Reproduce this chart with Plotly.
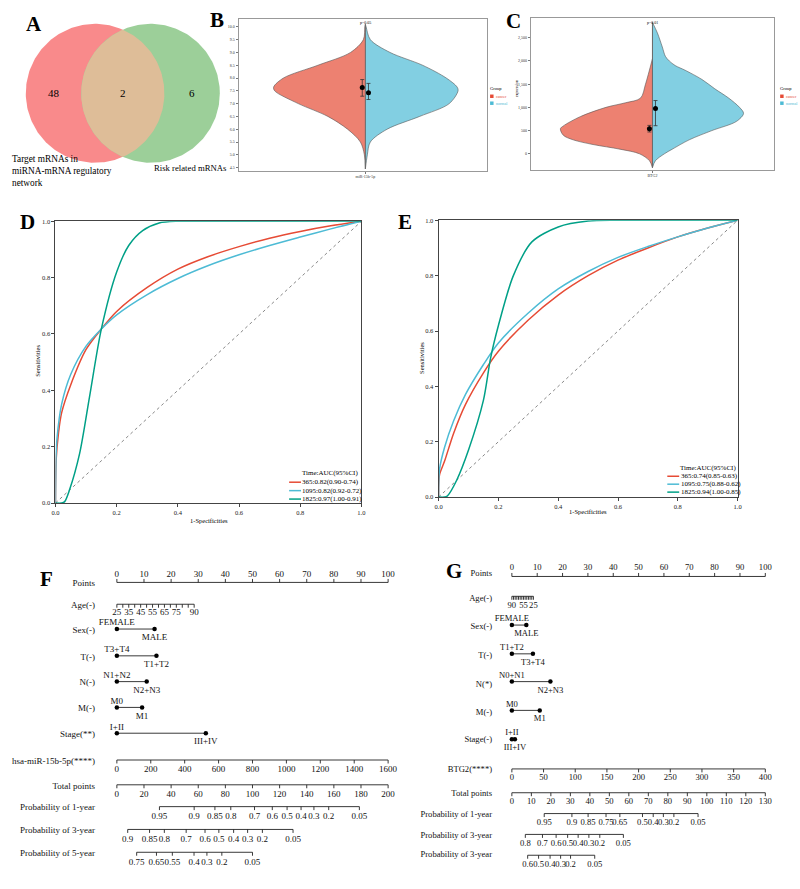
import numpy as np
import plotly.graph_objects as go

FONT = "Liberation Serif, Times New Roman, serif"
W, H = 800, 889

# ====================== DATA ======================
# Panel A (Venn)
venn_set_names = ["Target mRNAs in<br>miRNA-mRNA regulatory<br>network", "Risk related mRNAs"]
venn_counts = [48, 2, 6]          # only target, shared, only risk

# Panel B (split violin, miR-15b-5p)
b_gene = "miR-15b-5p"
b_pvalue = "p=0.05"
b_levels = [4.45, 5.0, 5.5, 6.0, 6.5, 7.0, 7.5, 7.65, 8.0, 8.5, 9.0, 9.5, 10.0, 10.1]
b_cancer_density = [0, 0.008, 0.04, 0.143, 0.302, 0.54, 0.73, 0.738, 0.659, 0.381, 0.119, 0.016, 0.004, 0]
b_normal_density = [0, 0.016, 0.04, 0.175, 0.437, 0.675, 0.746, 0.738, 0.651, 0.46, 0.198, 0.04, 0.006, 0]
b_mean = [7.63, 7.42]
b_low = [7.29, 7.16]
b_high = [7.94, 7.79]

# Panel C (split violin, BTG2)
c_gene = "BTG2"
c_pvalue = "p=0.01"
c_cancer_levels = [-300, -150, 0, 100, 200, 300, 400, 540, 600, 800, 1000, 1100, 1200, 1500, 2050]
c_cancer_density = [0, 0.024, 0.106, 0.268, 0.488, 0.650, 0.732, 0.756, 0.732, 0.593, 0.382, 0.220, 0.098, 0.057, 0]
c_normal_levels = [-300, -150, 0, 100, 300, 500, 700, 870, 1000, 1200, 1400, 1600, 1800, 1900, 2000, 2100, 2300, 2600, 2830]
c_normal_density = [0, 0.024, 0.098, 0.163, 0.301, 0.488, 0.691, 0.748, 0.715, 0.626, 0.512, 0.407, 0.268, 0.187, 0.138, 0.106, 0.081, 0.041, 0]
c_mean = [541, 976]
c_low = [470, 605]
c_high = [612, 1147]
groups = ["cancer", "normal"]

# Panel D (ROC)
d_fpr_365 = [0, 0.002, 0.01, 0.02, 0.05, 0.1, 0.15, 0.2, 0.3, 0.4, 0.5, 0.6, 0.7, 0.8, 0.9, 1.0]
d_tpr_365 = [0, 0.15, 0.25, 0.32, 0.42, 0.545, 0.618, 0.68, 0.765, 0.83, 0.875, 0.91, 0.94, 0.964, 0.984, 1.0]
d_fpr_1095 = [0, 0.002, 0.005, 0.02, 0.05, 0.1, 0.15, 0.2, 0.3, 0.4, 0.5, 0.6, 0.7, 0.8, 0.9, 1.0]
d_tpr_1095 = [0, 0.17, 0.23, 0.35, 0.457, 0.557, 0.618, 0.668, 0.74, 0.797, 0.843, 0.881, 0.914, 0.944, 0.973, 1.0]
d_fpr_1825 = [0, 0.02, 0.03, 0.046, 0.079, 0.111, 0.15, 0.2, 0.24, 0.285, 0.339, 0.4, 0.5, 1.0]
d_tpr_1825 = [0, 0, 0.005, 0.047, 0.176, 0.375, 0.618, 0.82, 0.915, 0.967, 0.994, 1.0, 1.0, 1.0]
d_legend = ["365:0.82(0.90-0.74)", "1095:0.82(0.92-0.72)", "1825:0.97(1.00-0.91)"]

# Panel E (ROC)
e_fpr_365 = [0, 0.003, 0.02, 0.05, 0.09, 0.15, 0.2, 0.3, 0.4, 0.5, 0.6, 0.7, 0.8, 0.9, 1.0]
e_tpr_365 = [0, 0.08, 0.13, 0.23, 0.335, 0.449, 0.527, 0.64, 0.73, 0.8, 0.856, 0.9, 0.94, 0.972, 1.0]
e_fpr_1095 = [0, 0.003, 0.02, 0.05, 0.09, 0.15, 0.2, 0.3, 0.4, 0.5, 0.6, 0.7, 0.8, 0.9, 1.0]
e_tpr_1095 = [0, 0.1, 0.18, 0.275, 0.371, 0.479, 0.557, 0.665, 0.752, 0.815, 0.866, 0.905, 0.94, 0.972, 1.0]
e_fpr_1825 = [0, 0.02, 0.03, 0.06, 0.1, 0.15, 0.174, 0.2, 0.25, 0.312, 0.4, 0.5, 0.6, 1.0]
e_tpr_1825 = [0, 0, 0.005, 0.06, 0.17, 0.35, 0.503, 0.62, 0.8, 0.922, 0.976, 0.997, 1.0, 1.0]
e_legend = ["365:0.74(0.85-0.63)", "1095:0.75(0.88-0.62)", "1825:0.94(1.00-0.85)"]
roc_legend_title = "Time:AUC(95%CI)"

# Panel F (nomogram, miRNA)
f_points_ticks = list(range(0, 101, 10))
f_age_ticks = list(range(25, 91, 5))
f_age_labels = [25, 35, 45, 55, 65, 75, 90]
f_age_max_points = 28.5
f_sex = (["FEMALE", "MALE"], [0, 13.9])
f_t = (["T3+T4", "T1+T2"], [0, 14.6])
f_n = (["N1+N2", "N2+N3"], [0, 11.0])
f_m = (["M0", "M1"], [0, 9.3])
f_stage = (["I+II", "III+IV"], [0, 32.8])
f_mir_ticks = list(range(0, 1601, 200))
f_mir_max = 1600
f_total_ticks = list(range(0, 201, 20))
f_total_max = 200
f_p1_labels = ["0.95", "0.9", "0.85", "0.8", "0.7", "0.6", "0.5", "0.4", "0.3", "0.2", "0.05"]
f_p1_total = [31.4, 57.0, 72.3, 84.0, 101.5, 114.6, 125.5, 135.8, 145.3, 156.2, 178.8]
f_p3_labels = ["0.9", "0.85", "0.8", "0.7", "0.6", "0.5", "0.4", "0.3", "0.2", "0.05"]
f_p3_total = [8.0, 24.1, 35.0, 51.1, 65.0, 75.2, 86.1, 96.4, 107.3, 129.9]
f_p5_labels = ["0.75", "0.65", "0.55", "0.4", "0.3", "0.2", "0.05"]
f_p5_total = [14.6, 29.2, 40.9, 56.9, 66.4, 77.4, 100.0]
f_row_names = ["Points", "Age(-)", "Sex(-)", "T(-)", "N(-)", "M(-)", "Stage(**)",
               "hsa-miR-15b-5p(****)", "Total points", "Probability of 1-year",
               "Probability of 3-year", "Probability of 5-year"]

# Panel G (nomogram, BTG2)
g_points_ticks = list(range(0, 101, 10))
g_age_ticks = list(range(25, 91, 5))
g_age_labels = [90, 55, 25]
g_age_max_points = 8.5
g_sex = (["FEMALE", "MALE"], [0, 5.7])
g_t = (["T1+T2", "T3+T4"], [0, 8.3])
g_n = (["N0+N1", "N2+N3"], [0, 15.2])
g_m = (["M0", "M1"], [0, 11.0])
g_stage = (["I+II", "III+IV"], [0, 1.2])
g_btg2_ticks = list(range(0, 401, 50))
g_btg2_max = 400
g_total_ticks = list(range(0, 131, 10))
g_total_max = 130
g_p1_labels = ["0.95", "0.9", "0.85", "0.75", "0.65", "0.5", "0.4", "0.3", "0.2", "0.05"]
g_p1_total = [16.6, 30.8, 39.1, 48.3, 55.4, 67.0, 72.5, 77.7, 83.1, 95.5]
g_p3_labels = ["0.8", "0.7", "0.6", "0.5", "0.4", "0.3", "0.2", "0.05"]
g_p3_total = [6.9, 15.7, 22.7, 28.6, 34.0, 39.5, 45.1, 57.2]
g_p3b_labels = ["0.6", "0.5", "0.4", "0.3", "0.2", "0.05"]
g_p3b_total = [8.1, 13.7, 19.6, 25.0, 30.1, 42.5]
g_row_names = ["Points", "Age(-)", "Sex(-)", "T(-)", "N(*)", "M(-)", "Stage(-)",
               "BTG2(****)", "Total points", "Probability of 1-year",
               "Probability of 3-year", "Probability of 3-year"]

# ====================== STYLE / LAYOUT ======================
RED, BLUE, GREEN = "#E64B35", "#4DBBD5", "#00A087"
RED_FILL, BLUE_FILL = "rgba(230,75,53,0.7)", "rgba(77,187,213,0.7)"
LINE = "#222222"

fig = go.Figure()
ann = []
shapes = []


def pxx(x):
    return x / W


def pxy(y):
    return 1 - y / H


def text(x, y, s, size=9, xanchor="center", yanchor="middle", color="#000", angle=0, align="center"):
    ann.append(dict(x=pxx(x), y=pxy(y), xref="paper", yref="paper", text=s, showarrow=False,
                    font=dict(family=FONT, size=size, color=color), xanchor=xanchor,
                    yanchor=yanchor, textangle=angle, borderpad=0, align=align))


def hline_px(x0, x1, y, color, width=1.5):
    shapes.append(dict(type="line", xref="paper", yref="paper", x0=pxx(x0), x1=pxx(x1),
                       y0=pxy(y), y1=pxy(y), line=dict(color=color, width=width)))


def square_px(x, y, s, color):
    shapes.append(dict(type="rect", xref="paper", yref="paper", x0=pxx(x), x1=pxx(x + s),
                       y0=pxy(y + s / 2), y1=pxy(y - s / 2), line=dict(width=0), fillcolor=color))


# ---------------- Panel A: Venn (px axes x/y) ----------------
R = 70
red_c, green_c = (92, 90), (148, 90)
th = np.linspace(0, 2 * np.pi, 241)
fig.add_trace(go.Scatter(x=red_c[0] + R * np.cos(th), y=red_c[1] + R * np.sin(th), mode="lines",
                         fill="toself", fillcolor="#F98A8B", line=dict(width=0),
                         xaxis="x", yaxis="y", hoverinfo="skip", showlegend=False))
fig.add_trace(go.Scatter(x=green_c[0] + R * np.cos(th), y=green_c[1] + R * np.sin(th), mode="lines",
                         fill="toself", fillcolor="#9CCF99", line=dict(width=0),
                         xaxis="x", yaxis="y", hoverinfo="skip", showlegend=False))
half = np.arccos((green_c[0] - red_c[0]) / 2 / R)
t1 = np.linspace(-half, half, 80)
t2 = np.linspace(np.pi - half, np.pi + half, 80)
lens_x = np.concatenate([red_c[0] + R * np.cos(t1), green_c[0] + R * np.cos(t2)])
lens_y = np.concatenate([red_c[1] + R * np.sin(t1), green_c[1] + R * np.sin(t2)])
fig.add_trace(go.Scatter(x=lens_x, y=lens_y, mode="lines", fill="toself", fillcolor="#DEBD98",
                         line=dict(width=0), xaxis="x", yaxis="y", hoverinfo="skip", showlegend=False))
text(50, 90, str(venn_counts[0]), size=11)
text(120, 90, str(venn_counts[1]), size=11)
text(190, 90, str(venn_counts[2]), size=11)
text(7, 168, venn_set_names[0], size=9.3, xanchor="left", align="left")
text(151, 165, venn_set_names[1], size=8.7, xanchor="left")

# ---------------- Panels B & C: split violins ----------------


def half_violin(levels, dens, sign, fill, xa, ya):
    fig.add_trace(go.Scatter(x=[sign * d for d in dens], y=levels, mode="lines", fill="toself",
                             fillcolor=fill, line=dict(color="#555", width=0.6, shape="spline", smoothing=0.9),
                             xaxis=xa, yaxis=ya, hoverinfo="skip", showlegend=False))


def means(mean, low, high, xa, ya):
    fig.add_trace(go.Scatter(x=[-0.025, 0.025], y=mean, mode="markers",
                             marker=dict(color="black", size=5),
                             error_y=dict(type="data", symmetric=False,
                                          array=[h - m for h, m in zip(high, mean)],
                                          arrayminus=[m - l for m, l in zip(mean, low)],
                                          color="#333", thickness=0.8, width=2),
                             xaxis=xa, yaxis=ya, hoverinfo="skip", showlegend=False))


half_violin(b_levels, b_cancer_density, -1, RED_FILL, "x4", "y4")
half_violin(b_levels, b_normal_density, 1, BLUE_FILL, "x4", "y4")
fig.add_trace(go.Scatter(x=[0, 0], y=[b_levels[0], b_levels[-1]], mode="lines",
                         line=dict(color="#666", width=1), xaxis="x4", yaxis="y4",
                         hoverinfo="skip", showlegend=False))
means(b_mean, b_low, b_high, "x4", "y4")

half_violin(c_cancer_levels, c_cancer_density, -1, RED_FILL, "x5", "y5")
half_violin(c_normal_levels, c_normal_density, 1, BLUE_FILL, "x5", "y5")
fig.add_trace(go.Scatter(x=[0, 0], y=[c_cancer_levels[0], c_normal_levels[-1]], mode="lines",
                         line=dict(color="#666", width=1), xaxis="x5", yaxis="y5",
                         hoverinfo="skip", showlegend=False))
means(c_mean, c_low, c_high, "x5", "y5")

text(365, 19, b_pvalue, size=4)
text(655, 19, c_pvalue, size=4)
text(518, 85, "expression", size=4, angle=-90)
for lx, name in [(490, "Group"), (783, "Group")]:
    text(lx, 85, name, size=4.5, xanchor="left")
    square_px(lx + 1, 93, 3.5, RED)
    square_px(lx + 1, 100, 3.5, BLUE)
    text(lx + 6, 93, groups[0], size=4, xanchor="left", color=RED)
    text(lx + 6, 100, groups[1], size=4, xanchor="left", color=BLUE)

# ---------------- Panels D & E: ROC ----------------


def roc(curves, xa, ya):
    fig.add_trace(go.Scatter(x=[0, 1], y=[0, 1], mode="lines",
                             line=dict(color="#555", width=0.7, dash="dot"),
                             xaxis=xa, yaxis=ya, hoverinfo="skip", showlegend=False))
    for fx, ty, col in curves:
        fig.add_trace(go.Scatter(x=fx, y=ty, mode="lines",
                                 line=dict(color=col, width=1.5, shape="spline", smoothing=0.8),
                                 xaxis=xa, yaxis=ya, hoverinfo="skip", showlegend=False,
                                 cliponaxis=False))


roc([(d_fpr_365, d_tpr_365, RED), (d_fpr_1095, d_tpr_1095, BLUE), (d_fpr_1825, d_tpr_1825, GREEN)], "x2", "y2")
roc([(e_fpr_365, e_tpr_365, RED), (e_fpr_1095, e_tpr_1095, BLUE), (e_fpr_1825, e_tpr_1825, GREEN)], "x3", "y3")

text(207, 521, "1-Specificities", size=6.5)
text(34, 360, "Sensitivities", size=6.5, angle=-90)
text(590, 512, "1-Specificities", size=6.5)
text(421, 357, "Sensitivities", size=6.5, angle=-90)

text(300, 473, roc_legend_title, size=7, xanchor="left")
for i, (lab, col) in enumerate(zip(d_legend, [RED, BLUE, GREEN])):
    y = 482 + i * 8.5
    hline_px(288, 300, y, col)
    text(300.5, y, lab, size=7, xanchor="left")
text(682, 468, roc_legend_title, size=7, xanchor="left")
for i, (lab, col) in enumerate(zip(e_legend, [RED, BLUE, GREEN])):
    y = 476 + i * 8
    hline_px(670, 682, y, col)
    text(683, y, lab, size=7, xanchor="left")

# ---------------- Panels F & G: nomograms ----------------
F_X0, F_PPP = 114, 2.74   # px of 0 points, px per point
G_X0, G_PPP = 513, 2.56


def seg_trace(xs, ys, xa, width=0.9):
    fig.add_trace(go.Scatter(x=xs, y=ys, mode="lines", line=dict(color=LINE, width=width),
                             xaxis=xa, yaxis="y", hoverinfo="skip", showlegend=False, cliponaxis=False))


def txt_trace(xs, ys, labels, xa, size, pos="middle center"):
    fig.add_trace(go.Scatter(x=xs, y=ys, mode="text", text=labels, textposition=pos,
                             textfont=dict(family=FONT, size=size, color="#111"),
                             xaxis=xa, yaxis="y", hoverinfo="skip", showlegend=False, cliponaxis=False))


def scale(xa, tick_pos, y_line, tick_dir, lab_pos, labels, lab_y, size):
    xs = [min(tick_pos), max(tick_pos), None]
    ys = [y_line, y_line, None]
    for p in tick_pos:
        xs += [p, p, None]
        ys += [y_line, y_line + tick_dir * 3.5, None]
    seg_trace(xs, ys, xa)
    txt_trace(lab_pos, [lab_y] * len(lab_pos), labels, xa, size)


def levels_row(xa, lv, y_line, size):
    names, pts = lv
    fig.add_trace(go.Scatter(x=pts, y=[y_line, y_line], mode="lines+markers",
                             line=dict(color=LINE, width=0.9), marker=dict(color="black", size=4.5),
                             xaxis=xa, yaxis="y", hoverinfo="skip", showlegend=False, cliponaxis=False))
    txt_trace([pts[0]], [y_line - 6], [names[0]], xa, size)
    txt_trace([pts[1]], [y_line + 9], [names[1]], xa, size)


# F rows (line y in px)
FS = 9
F_Y = [583, 605, 630, 657, 683, 709, 735, 762, 787, 809, 832, 855]
scale("x6", f_points_ticks, F_Y[0], -1, f_points_ticks, [str(v) for v in f_points_ticks], F_Y[0] - 8, FS)
age_pts = [(a - f_age_ticks[0]) / (f_age_ticks[-1] - f_age_ticks[0]) * f_age_max_points for a in f_age_ticks]
age_lab_pts = [(a - f_age_ticks[0]) / (f_age_ticks[-1] - f_age_ticks[0]) * f_age_max_points for a in f_age_labels]
scale("x6", age_pts, F_Y[1], 1, age_lab_pts, [str(v) for v in f_age_labels], F_Y[1] + 9, FS)
for lv, yy in zip([f_sex, f_t, f_n, f_m, f_stage], F_Y[2:7]):
    levels_row("x6", lv, yy, FS)
mir_pts = [v / f_mir_max * 100 for v in f_mir_ticks]
scale("x6", mir_pts, F_Y[7], 1, mir_pts, [str(v) for v in f_mir_ticks], F_Y[7] + 10, FS)
tot_pts = [v / f_total_max * 100 for v in f_total_ticks]
scale("x6", tot_pts, F_Y[8], 1, tot_pts, [str(v) for v in f_total_ticks], F_Y[8] + 10, FS)
for labs, tots, yy in [(f_p1_labels, f_p1_total, F_Y[9]), (f_p3_labels, f_p3_total, F_Y[10]),
                       (f_p5_labels, f_p5_total, F_Y[11])]:
    pp = [t / f_total_max * 100 for t in tots]
    scale("x6", pp, yy, 1, pp, labs, yy + 10.5, FS)
f_lab_x = (92 - F_X0) / F_PPP
txt_trace([f_lab_x] * len(f_row_names), [y + 1.5 for y in F_Y], f_row_names, "x6", FS, pos="middle left")

# G rows
GS = 8.6
G_Y = [577, 597, 626, 655, 683, 712, 741, 771, 795, 816, 837, 858]
scale("x7", g_points_ticks, G_Y[0], -1, g_points_ticks, [str(v) for v in g_points_ticks], G_Y[0] - 9, GS)
g_age_pts = [(g_age_ticks[-1] - a) / (g_age_ticks[-1] - g_age_ticks[0]) * g_age_max_points for a in g_age_ticks]
g_age_lab_pts = [(g_age_ticks[-1] - a) / (g_age_ticks[-1] - g_age_ticks[0]) * g_age_max_points for a in g_age_labels]
scale("x7", g_age_pts, G_Y[1], 1, g_age_lab_pts, [str(v) for v in g_age_labels], G_Y[1] + 10, GS)
for lv, yy in zip([g_sex, g_t, g_n, g_m, g_stage], G_Y[2:7]):
    levels_row("x7", lv, yy, GS)
btg_pts = [v / g_btg2_max * 100 for v in g_btg2_ticks]
scale("x7", btg_pts, G_Y[7], 1, btg_pts, [str(v) for v in g_btg2_ticks], G_Y[7] + 9, GS)
gtot_pts = [v / g_total_max * 100 for v in g_total_ticks]
scale("x7", gtot_pts, G_Y[8], 1, gtot_pts, [str(v) for v in g_total_ticks], G_Y[8] + 9, GS)
for labs, tots, yy in [(g_p1_labels, g_p1_total, G_Y[9]), (g_p3_labels, g_p3_total, G_Y[10]),
                       (g_p3b_labels, g_p3b_total, G_Y[11])]:
    pp = [t / g_total_max * 100 for t in tots]
    scale("x7", pp, yy, 1, pp, labs, yy + 9.5, GS)
g_lab_x = (493 - G_X0) / G_PPP
g_lab_y = [574, 600, 628, 657, 686, 714, 742, 772, 796, 817, 838, 858]
txt_trace([g_lab_x] * len(g_row_names), g_lab_y, g_row_names, "x7", GS, pos="middle left")

# ---------------- Panel letters ----------------
for L, x, y in [("A", 30, 20), ("B", 215, 16), ("C", 515, 17), ("D", 24, 220), ("E", 405, 220),
                ("F", 43, 580), ("G", 455, 572)]:
    text(x, y, "<b>%s</b>" % L, size=21)

# ====================== AXES ======================
roc_axis = dict(range=[0, 1], showline=True, mirror=True, linecolor="#444", linewidth=1,
                ticks="outside", ticklen=3, tickcolor="#444", tickwidth=1,
                tickvals=[0, 0.2, 0.4, 0.6, 0.8, 1.0], tickformat=".1f",
                tickfont=dict(family=FONT, size=6.5, color="#222"),
                showgrid=False, zeroline=False, fixedrange=True)
vio_axis = dict(showline=True, mirror=True, linecolor="#999", linewidth=1, ticks="outside",
                ticklen=2, tickcolor="#777", tickfont=dict(family=FONT, size=4, color="#333"),
                showgrid=False, zeroline=False, fixedrange=True)
hidden = dict(visible=False, fixedrange=True)

fig.update_layout(
    width=W, height=H, margin=dict(l=0, r=0, t=0, b=0),
    paper_bgcolor="white", plot_bgcolor="rgba(0,0,0,0)",
    showlegend=False, font=dict(family=FONT),
    xaxis=dict(domain=[0, 1], range=[0, W], anchor="y", **hidden),
    yaxis=dict(domain=[0, 1], range=[H, 0], anchor="x", **hidden),
    xaxis2=dict(domain=[pxx(52), pxx(361)], anchor="y2", **roc_axis),
    yaxis2=dict(domain=[pxy(503), pxy(219)], anchor="x2", **roc_axis),
    xaxis3=dict(domain=[pxx(439), pxx(741)], anchor="y3", **roc_axis),
    yaxis3=dict(domain=[pxy(497), pxy(218)], anchor="x3", **roc_axis),
    xaxis4=dict(domain=[pxx(237), pxx(488)], anchor="y4", range=[-1.02, 0.98],
                tickvals=[0], ticktext=[b_gene], **vio_axis),
    yaxis4=dict(domain=[pxy(168), pxy(15)], anchor="x4", range=[4.38, 10.31],
                tickvals=[4.5 + 0.5 * i for i in range(12)], tickformat=".1f", **vio_axis),
    xaxis5=dict(domain=[pxx(532), pxx(778)], anchor="y5", range=[-1, 1],
                tickvals=[0], ticktext=[c_gene], **vio_axis),
    yaxis5=dict(domain=[pxy(167), pxy(14)], anchor="x5", range=[-342, 2927],
                tickvals=[0, 500, 1000, 1500, 2000, 2500], tickformat=",d", **vio_axis),
    xaxis6=dict(domain=[0, 0.5], anchor="y", range=[(0 - F_X0) / F_PPP, (400 - F_X0) / F_PPP], **hidden),
    xaxis7=dict(domain=[0.5, 1], anchor="y", range=[(400 - G_X0) / G_PPP, (800 - G_X0) / G_PPP], **hidden),
    annotations=ann, shapes=shapes,
)

fig.write_html("out.html")
